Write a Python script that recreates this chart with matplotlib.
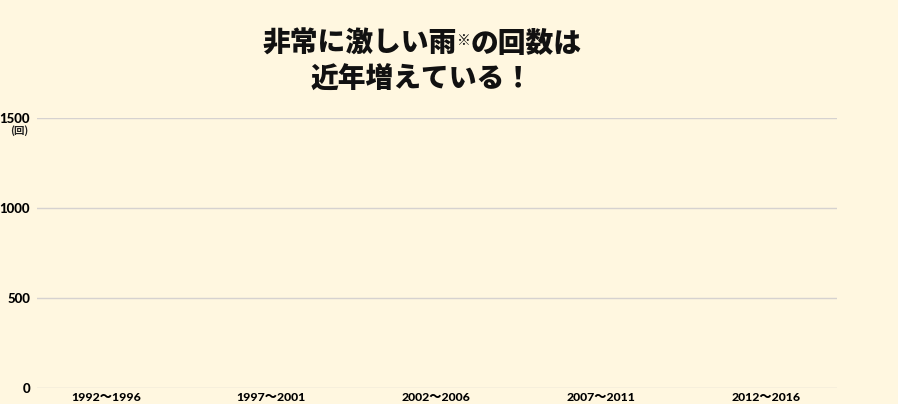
import matplotlib
matplotlib.use('Agg')
import matplotlib.pyplot as plt

# data
periods = ['1992〜1996', '1997〜2001', '2002〜2006', '2007〜2011', '2012〜2016']
counts = [0, 0, 0, 0, 0]   # bars not drawn yet in the reference
yticks = [0, 500, 1000, 1500]

bg = '#FFF7E0'
lat = ['Lato', 'Noto Sans CJK JP', 'DejaVu Sans']
jp = ['Noto Sans CJK JP', 'DejaVu Sans']

fig = plt.figure(figsize=(8.98, 4.04), dpi=100, facecolor=bg)
ax = fig.add_axes([37/898, 1-388/404, 800/898, 270/404])
ax.set_facecolor(bg)

x = list(range(len(periods)))
ax.bar(x, counts, width=0.55, color='#3d8fd1')

ax.set_xlim((37-106)/165, (837-106)/165)
ax.set_ylim(0, 1500)
for v in yticks:
    ax.axhline(v, color='#d6d2d0', lw=1.0, zorder=0)
for s in ax.spines.values():
    s.set_visible(False)
ax.set_yticks(yticks)
ax.set_yticklabels([str(v) for v in yticks], fontfamily=lat, fontweight='black', fontsize=9.5)
ax.set_xticks(x)
ax.set_xticklabels(periods, fontfamily=lat, fontweight='black', fontsize=8.8)
ax.tick_params(length=0)
ax.tick_params(axis='y', pad=5)
ax.tick_params(axis='x', pad=3)

fig.text(19/898, 1-131/404, '(回)', ha='center', va='center', fontsize=7.5,
         fontweight='bold', fontfamily=jp, color='#222222')

# title, with a small raised ※
fig.canvas.draw()
r = fig.canvas.get_renderer()
tk = dict(fontsize=20, fontweight='black', fontfamily=jp, color='#111111')
parts = [('非常に激しい雨', tk, 0), ('※', dict(tk, fontsize=10, fontweight='normal'), 7), ('の回数は', tk, 0)]
objs = []
total = 0
for s, kw, dy in parts:
    t = fig.text(0, 0, s, va='baseline', ha='left', **kw)
    w = t.get_window_extent(r).width
    objs.append((t, w, dy))
    total += w
cx = 422
left = cx - total/2
base = 404 - 52
for t, w, dy in objs:
    t.set_position((left/898, (base+dy)/404))
    left += w
fig.text(cx/898, 1-88/404, '近年増えている！', ha='center', va='baseline', **tk)

fig.savefig('out.png', dpi=100, facecolor=bg)
